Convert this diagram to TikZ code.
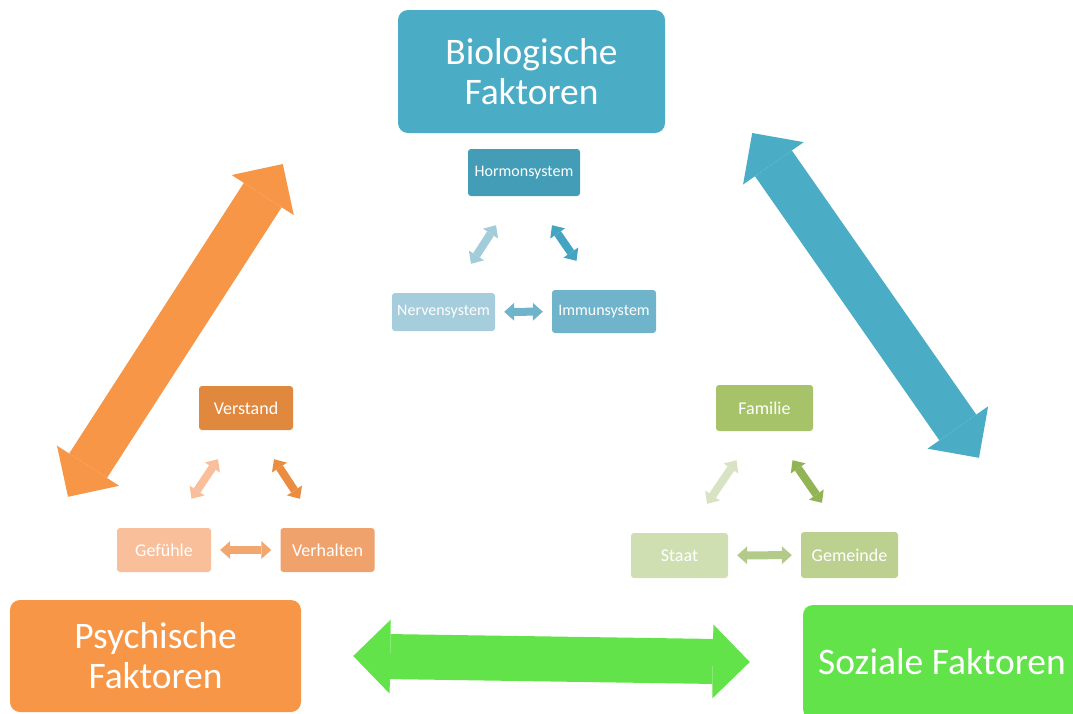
\documentclass[tikz,border=0pt]{standalone}
\usepackage{fontspec}
\setmainfont{Carlito}
\usetikzlibrary{arrows.meta}
\definecolor{bioC}{HTML}{4BACC6}
\definecolor{psyC}{HTML}{F79646}
\definecolor{sozC}{HTML}{62E34A}
\definecolor{hormC}{HTML}{439DB6}
\definecolor{immC}{HTML}{6FB4CA}
\definecolor{nervC}{HTML}{A5CDDB}
\definecolor{verstC}{HTML}{E0883E}
\definecolor{verhC}{HTML}{F0A26C}
\definecolor{gefC}{HTML}{F9BF9B}
\definecolor{famC}{HTML}{A6C36A}
\definecolor{gemC}{HTML}{BCD18F}
\definecolor{staatC}{HTML}{D0DFB1}
\definecolor{tealL}{HTML}{A3CCDA}
\definecolor{tealD}{HTML}{45A4BF}
\definecolor{tealM}{HTML}{6FB4CA}
\definecolor{orL}{HTML}{F9BF9B}
\definecolor{orD}{HTML}{EB8D40}
\definecolor{orM}{HTML}{F2A670}
\definecolor{grL}{HTML}{D7E3C3}
\definecolor{grD}{HTML}{93B455}
\definecolor{grM}{HTML}{B3CB8A}

\begin{document}
\begin{tikzpicture}[x=1pt,y=-1pt,
	bigbox/.style={rounded corners=10pt,text=white,align=center,font=\fontsize{37.5}{40}\selectfont},
	smallbox/.style={rounded corners=3pt,text=white,font=\fontsize{18}{20}\selectfont},
	tealbox/.style={smallbox,font=\fontsize{16}{18}\selectfont},
	bigarr/.style={line width=45pt,{Triangle[length=37pt,width=74pt,line width=0pt]}-{Triangle[length=37pt,width=74pt,line width=0pt]}},
	smallarr/.style={line width=8pt,{Triangle[length=10pt,width=18pt,line width=0pt]}-{Triangle[length=10pt,width=18pt,line width=0pt]}}]
	\clip (0,0) rectangle (1073,713);

	\node[bigbox,fill=bioC,minimum width=267pt,minimum height=123pt] (bio) at (531.5,71.5) {Biologische\\Faktoren};
	\node[bigbox,fill=psyC,minimum width=291pt,minimum height=112pt] (psy) at (155.5,656) {Psychische\\Faktoren};
	\node[bigbox,fill=sozC,minimum width=278pt,minimum height=114pt] (soz) at (942,662) {Soziale Faktoren};

	\draw[bigarr,psyC] ([shift={(-87.5,-103)}]psy.north) -- ([shift={(-115,92.5)}]bio.west);
	\draw[bigarr,bioC] ([shift={(87,61.5)}]bio.east) -- ([shift={(37,-147)}]soz.north);
	\draw[bigarr,sozC] ([xshift=52]psy.east) -- ([xshift=-53]soz.west);

	\node[tealbox,fill=hormC,minimum width=112pt,minimum height=47pt] (horm) at (524,172.5) {Hormonsystem};
	\node[tealbox,fill=nervC,minimum width=103pt,minimum height=38pt] (nerv) at (443.5,312) {Nervensystem};
	\node[tealbox,fill=immC,minimum width=104pt,minimum height=43pt] (immun) at (604,311.5) {Immunsystem};

	\node[smallbox,fill=verstC,minimum width=94pt,minimum height=44pt] (verst) at (246,408) {Verstand};
	\node[smallbox,fill=gefC,minimum width=94pt,minimum height=44pt] (gef) at (164,550) {Gefühle};
	\node[smallbox,fill=verhC,minimum width=94pt,minimum height=44pt] (verh) at (327.5,550) {Verhalten};

	\node[smallbox,fill=famC,minimum width=97pt,minimum height=46pt] (fam) at (764.5,408) {Familie};
	\node[smallbox,fill=staatC,minimum width=97pt,minimum height=45pt] (staat) at (679.5,555.5) {Staat};
	\node[smallbox,fill=gemC,minimum width=97pt,minimum height=46pt] (gem) at (849.5,555) {Gemeinde};

	\foreach \ta/\tb/\tc/\ca/\cb/\cc in {horm/nerv/immun/tealL/tealD/tealM, verst/gef/verh/orL/orD/orM, fam/staat/gem/grL/grD/grM}{
		\draw[smallarr,\ca] ([shift={(27.5,-29)}]\tb.north) -- ([shift={(-28,29)}]\ta.south);
		\draw[smallarr,\cb] ([shift={(28,29)}]\ta.south) -- ([shift={(-27.5,-29)}]\tc.north);
		\draw[smallarr,\cc,shorten <=9pt,shorten >=9pt] (\tb) -- (\tc);
	}
\end{tikzpicture}
\end{document}
